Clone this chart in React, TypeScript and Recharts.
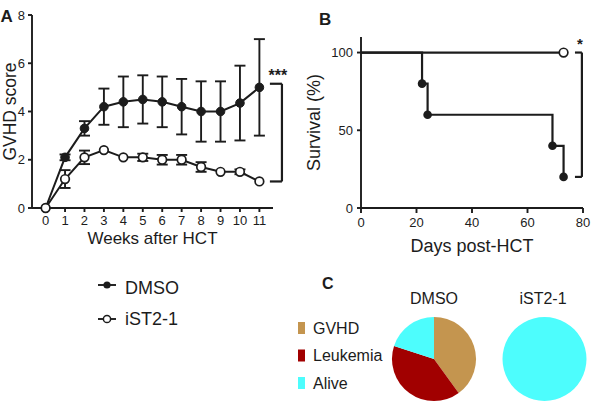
import React from 'react';
import {
  ComposedChart,
  LineChart,
  Line,
  XAxis,
  YAxis,
  ErrorBar,
  ReferenceLine,
  ReferenceDot,
  PieChart,
  Pie,
  Cell,
} from 'recharts';

// A: GVHD score by week
const weeks = [0, 1, 2, 3, 4, 5, 6, 7, 8, 9, 10, 11];
const dmsoScore = [0, 2.1, 3.3, 4.2, 4.4, 4.5, 4.4, 4.2, 4.0, 4.0, 4.35, 5.0];
const dmsoSem = [null, 0.12, 0.3, 0.75, 1.05, 1.0, 1.05, 1.15, 1.25, 1.25, 1.55, 2.0];
const istScore = [0, 1.2, 2.1, 2.4, 2.1, 2.1, 2.0, 2.0, 1.7, 1.5, 1.5, 1.1];
const istSem = [null, 0.37, 0.28, null, null, 0.15, 0.2, 0.2, 0.2, null, 0.1, null];
const gvhdTicks = [0, 2, 4, 6, 8];

// B: survival
const dmsoDays = [0, 22, 24, 69, 73];
const dmsoSurvival = [100, 80, 60, 40, 20];
const istDays = [0, 73];
const istSurvival = [100, 100];
const dayTicks = [0, 20, 40, 60, 80];
const survivalTicks = [0, 50, 100];

// C: outcome
const outcomes = ['GVHD', 'Leukemia', 'Alive'];
const outcomeColors = ['#c4954f', '#a10000', '#4dfdfd'];
const dmsoOutcome = [2, 2, 1];
const istOutcome = [0, 0, 5];

const FONT = '"Liberation Sans", Arial, Helvetica, sans-serif';
const INK = '#1c1c1c';

const gvhdData = weeks.map((w, i) => ({
  week: w,
  dmso: dmsoScore[i],
  dmsoErr: dmsoSem[i],
  ist: istScore[i],
  istErr: istSem[i],
}));
const dmsoSurv = dmsoDays.map((d, i) => ({ day: d, pct: dmsoSurvival[i] }));
const istSurv = istDays.map((d, i) => ({ day: d, pct: istSurvival[i] }));

const pieOf = (vals: number[]) =>
  outcomes
    .map((name, i) => ({ name, value: vals[i], color: outcomeColors[i] }))
    .filter((d) => d.value > 0);

const axisLine = { stroke: INK, strokeWidth: 1.9 };
const tickStyle = { fill: INK, fontSize: 13, fontFamily: FONT };

const filledDot = (props: any) => {
  const { cx, cy, index } = props;
  if (index === 0) return <g key={`fd-${index}`} />;
  return <circle key={`fd-${index}`} cx={cx} cy={cy} r={4.3} fill={INK} />;
};

const openDot = (props: any) => {
  const { cx, cy, index } = props;
  if (index === 0) return <g key={`od-${index}`} />;
  return <circle key={`od-${index}`} cx={cx} cy={cy} r={4.3} fill="#fff" stroke={INK} strokeWidth={1.7} />;
};

const App: React.FC = () => {
  return (
    <div style={{ position: 'absolute', left: 0, top: 0, width: 596, height: 412, background: '#fff', fontFamily: FONT }}>
      <div style={{ position: 'absolute', left: 0, top: 0 }}>
        <ComposedChart width={300} height={250} data={gvhdData} margin={{ top: 15, right: 27, bottom: 0, left: 0 }}>
          <XAxis
            dataKey="week"
            type="number"
            domain={[-0.7, 11.7]}
            ticks={weeks}
            interval={0}
            height={42}
            tickSize={4}
            tickMargin={4}
            axisLine={axisLine}
            tickLine={axisLine}
            tick={tickStyle}
            label={{ value: 'Weeks after HCT', position: 'insideBottom', offset: 6, fill: INK, fontSize: 17, fontFamily: FONT }}
          />
          <YAxis
            type="number"
            domain={[0, 8]}
            ticks={gvhdTicks}
            width={32}
            tickSize={4}
            tickMargin={3}
            axisLine={axisLine}
            tickLine={axisLine}
            tick={tickStyle}
            label={{ value: 'GVHD score', angle: -90, position: 'insideLeft', offset: 9.5, fill: INK, fontSize: 17.5, fontFamily: FONT, style: { textAnchor: 'middle' } }}
          />
          <Line dataKey="dmso" type="linear" stroke={INK} strokeWidth={2} dot={{ r: 4.3, fill: INK, stroke: INK, strokeWidth: 1 }} activeDot={false} isAnimationActive={false}>
            <ErrorBar dataKey="dmsoErr" direction="y" width={5.5} stroke={INK} strokeWidth={1.9} />
          </Line>
          <Line dataKey="ist" type="linear" stroke={INK} strokeWidth={2} dot={{ r: 4.3, fill: '#fff', stroke: INK, strokeWidth: 1.7 }} activeDot={false} isAnimationActive={false}>
            <ErrorBar dataKey="istErr" direction="y" width={5.5} stroke={INK} strokeWidth={1.9} />
          </Line>
          <ReferenceLine segment={[{ x: 12.16, y: 5.15 }, { x: 12.16, y: 1.1 }]} stroke={INK} strokeWidth={2.2} ifOverflow="visible" />
          <ReferenceLine segment={[{ x: 11.54, y: 5.15 }, { x: 12.16, y: 5.15 }]} stroke={INK} strokeWidth={2.2} ifOverflow="visible" />
          <ReferenceLine segment={[{ x: 11.54, y: 1.1 }, { x: 12.16, y: 1.1 }]} stroke={INK} strokeWidth={2.2} ifOverflow="visible" />
          <ReferenceDot x={11.95} y={5.5} r={1} fill="none" stroke="none" ifOverflow="visible"
            label={{ value: '***', position: 'center', fill: INK, fontSize: 16, fontWeight: 700, fontFamily: FONT }} />
        </ComposedChart>
      </div>

      <div style={{ position: 'absolute', left: 300, top: 0 }}>
        <LineChart width={296} height={260} margin={{ top: 37, right: 13, bottom: 0, left: 0 }}>
          <XAxis
            dataKey="day"
            type="number"
            domain={[0, 80]}
            ticks={dayTicks}
            height={52}
            tickSize={5}
            tickMargin={5}
            axisLine={axisLine}
            tickLine={axisLine}
            tick={tickStyle}
            allowDuplicatedCategory={false}
            label={{ value: 'Days post-HCT', position: 'insideBottom', offset: 8, fill: INK, fontSize: 18, fontFamily: FONT }}
          />
          <YAxis
            type="number"
            domain={[0, 110]}
            ticks={survivalTicks}
            width={61}
            tickSize={4}
            tickMargin={4}
            axisLine={axisLine}
            tickLine={axisLine}
            tick={tickStyle}
            label={{ value: 'Survival (%)', angle: -90, position: 'insideLeft', offset: 14, fill: INK, fontSize: 18, fontFamily: FONT, style: { textAnchor: 'middle' } }}
          />
          <Line data={dmsoSurv} dataKey="pct" type="stepAfter" stroke={INK} strokeWidth={2.2} dot={filledDot} activeDot={false} isAnimationActive={false} />
          <Line data={istSurv} dataKey="pct" type="stepAfter" stroke={INK} strokeWidth={2.2} dot={openDot} activeDot={false} isAnimationActive={false} />
          <ReferenceLine segment={[{ x: 79.6, y: 100 }, { x: 79.6, y: 20 }]} stroke={INK} strokeWidth={2.2} ifOverflow="visible" />
          <ReferenceLine segment={[{ x: 77.1, y: 100 }, { x: 79.6, y: 100 }]} stroke={INK} strokeWidth={2.2} ifOverflow="visible" />
          <ReferenceLine segment={[{ x: 77.1, y: 20 }, { x: 79.6, y: 20 }]} stroke={INK} strokeWidth={2.2} ifOverflow="visible" />
          <ReferenceDot x={78.9} y={105.5} r={1} fill="none" stroke="none" ifOverflow="visible"
            label={{ value: '*', position: 'center', fill: INK, fontSize: 15, fontWeight: 700, fontFamily: FONT }} />
        </LineChart>
      </div>

      <div style={{ position: 'absolute', left: 384, top: 309 }}>
        <PieChart width={220} height={100} margin={{ top: 0, right: 0, bottom: 0, left: 0 }}>
          <Pie data={pieOf(dmsoOutcome)} dataKey="value" nameKey="name" cx={50} cy={50} outerRadius={42} startAngle={90} endAngle={-270} stroke="none" isAnimationActive={false}>
            {pieOf(dmsoOutcome).map((d, i) => (
              <Cell key={`dm-${i}`} fill={d.color} />
            ))}
          </Pie>
          <Pie data={pieOf(istOutcome)} dataKey="value" nameKey="name" cx={160.5} cy={50} outerRadius={42} startAngle={90} endAngle={-270} stroke="none" isAnimationActive={false}>
            {pieOf(istOutcome).map((d, i) => (
              <Cell key={`is-${i}`} fill={d.color} />
            ))}
          </Pie>
        </PieChart>
      </div>

      <svg width={596} height={412} style={{ position: 'absolute', left: 0, top: 0, pointerEvents: 'none' }} fontFamily={FONT}>
        <text x={0.5} y={22} fontSize={17} fontWeight={700} fill={INK}>A</text>
        <text x={319} y={25} fontSize={17} fontWeight={700} fill={INK}>B</text>
        <text x={322} y={289} fontSize={16} fontWeight={700} fill={INK}>C</text>

        <line x1={98} y1={285} x2={116} y2={285} stroke={INK} strokeWidth={1.9} />
        <circle cx={107} cy={285} r={3.6} fill={INK} />
        <text x={125} y={293.5} fontSize={18} fill={INK}>DMSO</text>
        <line x1={98} y1={319} x2={116} y2={319} stroke={INK} strokeWidth={1.9} />
        <circle cx={107} cy={319} r={3.6} fill="#fff" stroke={INK} strokeWidth={1.5} />
        <text x={125} y={325} fontSize={18} fill={INK}>iST2-1</text>

        {outcomes.map((name, i) => (
          <g key={name}>
            <rect x={298} y={322 + i * 27.5} width={7} height={12} fill={outcomeColors[i]} />
            <text x={313} y={333.8 + i * 27.5} fontSize={16} fill={INK}>{name}</text>
          </g>
        ))}

        <text x={434} y={304} fontSize={16} textAnchor="middle" fill={INK}>DMSO</text>
        <text x={543} y={304} fontSize={16} textAnchor="middle" fill={INK}>iST2-1</text>
      </svg>
    </div>
  );
};

export default App;
